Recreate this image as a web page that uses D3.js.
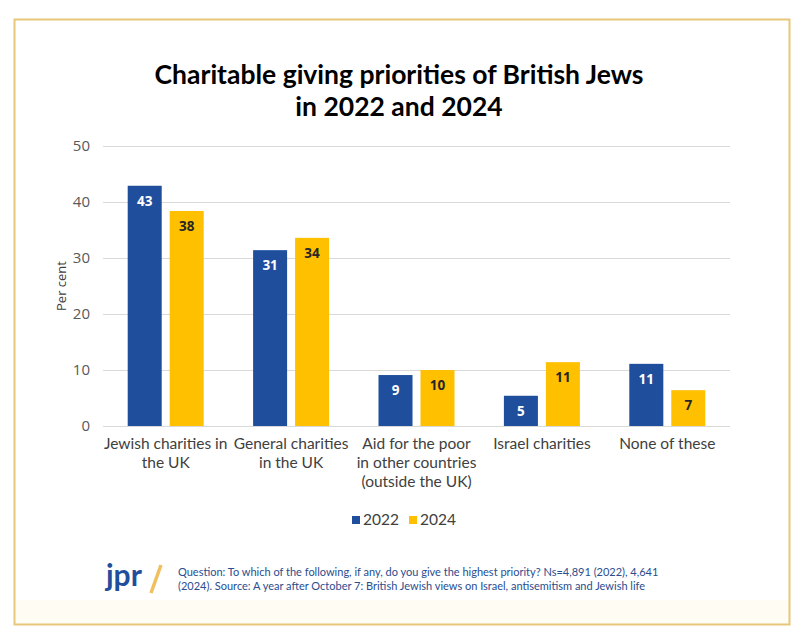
<!DOCTYPE html>
<html><head><meta charset="utf-8">
<script src="https://cdn.jsdelivr.net/npm/d3@7"></script>
<style>body{margin:0;background:#fff}svg{display:block}</style>
</head><body><svg id="c" width="805" height="644"></svg>
<script>
const categories = [["Jewish charities in","the UK"],["General charities","in the UK"],["Aid for the poor","in other countries","(outside the UK)"],["Israel charities"],["None of these"]];
const seriesNames = ["2022","2024"];
const values2022 = [42.9, 31.4, 9.1, 5.4, 11.1];
const values2024 = [38.4, 33.6, 10.0, 11.4, 6.4];
const labels2022 = ["43","31","9","5","11"];
const labels2024 = ["38","34","10","11","7"];
const yTicks = [0,10,20,30,40,50];
const colors = ["#1f4e9c","#ffc000"];
const labelColors = ["#ffffff","#262626"];

const svg = d3.select("#c");
// frame
svg.append("rect").attr("x",0).attr("y",0).attr("width",805).attr("height",644).attr("fill","#fff");
svg.append("rect").attr("x",14.5).attr("y",600).attr("width",775).attr("height",24).attr("fill","#fffcf4");
svg.append("rect").attr("x",14.5).attr("y",19.5).attr("width",775).attr("height",605)
  .attr("fill","none").attr("stroke","#e6c77c").attr("stroke-width",2);

// title
const title = svg.append("text").attr("text-anchor","middle").attr("font-family","Lato, sans-serif")
  .attr("font-weight","bold").attr("font-size",26.5).attr("fill","#000");
title.append("tspan").attr("x",399).attr("y",84).text("Charitable giving priorities of British Jews");
title.append("tspan").attr("x",399).attr("y",116).text("in 2022 and 2024");

const x0 = d3.scaleBand().domain(d3.range(categories.length)).range([103,730]).paddingInner(0).paddingOuter(0);
const x1 = d3.scaleBand().domain(seriesNames).range([x0.bandwidth()/2-38, x0.bandwidth()/2+38]).paddingInner(0.19);
const y = d3.scaleLinear().domain([0,50]).range([426,146]);

// grid
const yAxis = d3.axisLeft(y).tickValues(yTicks).tickSize(0).tickPadding(13);
const ga = svg.append("g").attr("transform","translate(103,0)").call(yAxis);
ga.select(".domain").remove();
ga.selectAll("text").attr("font-family","Open Sans, sans-serif").attr("font-size",15).attr("fill","#595959");
svg.append("g").selectAll("line").data(yTicks).join("line")
  .attr("x1",103).attr("x2",730).attr("y1",d=>y(d)+0.5).attr("y2",d=>y(d)+0.5)
  .attr("stroke","#d9d9d9").attr("stroke-width",1.2);

svg.append("text").attr("transform","translate(66,286) rotate(-90)").attr("text-anchor","middle")
  .attr("font-family","Open Sans, sans-serif").attr("font-size",13).attr("fill","#404040").text("Per cent");

const series = [values2022, values2024];
const labs = [labels2022, labels2024];
seriesNames.forEach((s,si)=>{
  const g = svg.append("g");
  g.selectAll("rect").data(series[si]).join("rect")
    .attr("x",(d,i)=>x0(i)+x1(s)).attr("width",x1.bandwidth())
    .attr("y",d=>y(d)).attr("height",d=>y(0)-y(d)).attr("fill",colors[si]);
  g.selectAll("text").data(series[si]).join("text")
    .attr("x",(d,i)=>x0(i)+x1(s)+x1.bandwidth()/2).attr("y",d=>Math.min(y(d)+20, y(0)-4))
    .attr("text-anchor","middle").attr("font-family","Open Sans, sans-serif").attr("font-weight","bold")
    .attr("font-size",13.5).attr("fill",labelColors[si]).text((d,i)=>labs[si][i]);
});

// category labels
categories.forEach((lines,i)=>{
  const t = svg.append("text").attr("text-anchor","middle").attr("font-family","Lato, sans-serif")
    .attr("font-size",15.5).attr("fill","#404040");
  lines.forEach((l,j)=>t.append("tspan").attr("x",x0(i)+x0.bandwidth()/2).attr("y",449+j*19).text(l));
});

// legend
const leg = svg.append("g");
const legX = [352,409];
seriesNames.forEach((s,si)=>{
  leg.append("rect").attr("x",legX[si]).attr("y",516).attr("width",8).attr("height",8).attr("fill",colors[si]);
  leg.append("text").attr("x",legX[si]+11).attr("y",525).attr("font-family","Lato, sans-serif")
    .attr("font-size",15.5).attr("fill","#404040").text(s);
});

// footer logo
svg.append("text").attr("x",106).attr("y",586).attr("font-family","Lato, sans-serif").attr("font-weight","bold")
  .attr("font-size",30).attr("fill","#1f4e9c").text("jpr");
svg.append("line").attr("x1",151).attr("y1",593).attr("x2",161).attr("y2",565)
  .attr("stroke","#f0c060").attr("stroke-width",3.5);
const ft = svg.append("text").attr("font-family","Lato, sans-serif").attr("font-size",11).attr("fill","#2a4d8f");
ft.append("tspan").attr("x",178).attr("y",576).text("Question: To which of the following, if any, do you give the highest priority? Ns=4,891 (2022), 4,641");
ft.append("tspan").attr("x",178).attr("y",590).text("(2024). Source: A year after October 7: British Jewish views on Israel, antisemitism and Jewish life");
</script></body></html>
